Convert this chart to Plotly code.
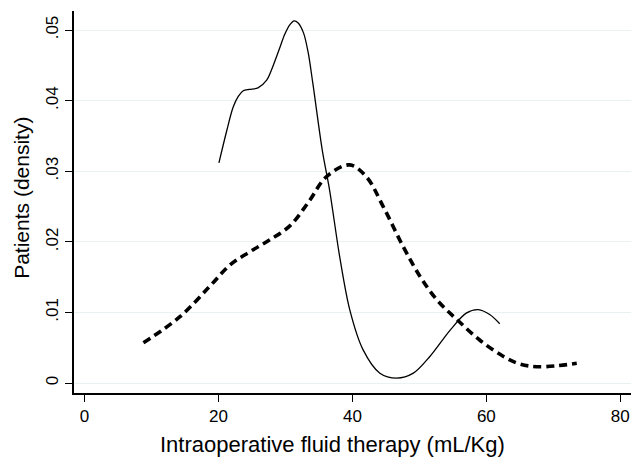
import plotly.graph_objects as go

# Solid curve (group 1) density
solid_x = [20.07, 21.2, 22.2, 22.96, 23.7, 24.6, 25.9, 27.2, 27.9, 29.2, 29.9, 30.7, 31.3, 31.9, 32.7,
           33.4, 34.1, 35.5, 36.6, 38.1, 39.6, 41.6, 44.1, 46.6, 49.1, 51.6, 54.6, 57.0, 58.8,
           60.5, 62.0]
solid_y = [0.0312, 0.0356, 0.0391, 0.0406, 0.0414, 0.0416, 0.0418, 0.0429, 0.0443, 0.0476, 0.0494,
           0.0508, 0.0513, 0.0510, 0.0496, 0.0468, 0.0424, 0.0330, 0.0273, 0.0179, 0.0104, 0.0047,
           0.0014, 0.0007, 0.0014, 0.0038, 0.0075, 0.0099, 0.0104, 0.0097, 0.0084]

# Dashed curve (group 2) density
dash_x = [8.8, 14.25, 18.7, 21.7, 24.7, 27.7, 30.7, 33.5, 36.1, 39.6, 42.1, 44.6, 47.6, 50.1,
          52.6, 55.6, 59.0, 62.5, 65.0, 68.0, 73.5]
dash_y = [0.0057, 0.0094, 0.0137, 0.0167, 0.0186, 0.0203, 0.0223, 0.0257, 0.0292, 0.0309, 0.0292,
          0.0250, 0.0193, 0.0151, 0.0118, 0.0090, 0.0061, 0.0038, 0.0027, 0.0023, 0.0028]

x_ticks = [0, 20, 40, 60, 80]
y_ticks = [0, 0.01, 0.02, 0.03, 0.04, 0.05]
y_ticktext = ["0", ".01", ".02", ".03", ".04", ".05"]

x_title = "Intraoperative fluid therapy (mL/Kg)"
y_title = "Patients (density)"

fig = go.Figure()
fig.add_trace(go.Scatter(x=solid_x, y=solid_y, mode="lines",
                         line=dict(color="black", width=1.3, shape="spline", smoothing=0.9),
                         showlegend=False))
fig.add_trace(go.Scatter(x=dash_x, y=dash_y, mode="lines",
                         line=dict(color="black", width=3.6, shape="spline", smoothing=1.0,
                                   dash="8px,5px"),
                         showlegend=False))

fig.update_layout(
    width=631, height=459,
    margin=dict(l=74, r=0, t=11, b=66),
    paper_bgcolor="white", plot_bgcolor="white",
    font=dict(family="Liberation Sans, Arial, sans-serif", color="black", size=16),
    xaxis=dict(range=[-1.57, 81.6], tickvals=x_ticks, showgrid=False, zeroline=False,
               showline=True, linecolor="black", linewidth=1.5,
               ticks="outside", ticklen=7, tickcolor="black", tickwidth=1,
               tickfont=dict(size=17)),
    yaxis=dict(range=[-0.00141, 0.0527], tickvals=y_ticks, ticktext=y_ticktext,
               tickangle=-90, showgrid=True, gridcolor="#eaf1f3", gridwidth=1.2,
               zeroline=False, showline=True, linecolor="black", linewidth=1.5,
               ticks="outside", ticklen=7, tickcolor="black", tickwidth=1,
               tickfont=dict(size=17)),
    annotations=[
        dict(text=x_title, xref="paper", yref="paper", x=0.464, y=-0.135,
             xanchor="center", yanchor="middle", showarrow=False, font=dict(size=22)),
        dict(text=y_title, xref="paper", yref="paper", x=-0.094, y=0.51, textangle=-90,
             xanchor="center", yanchor="middle", showarrow=False, font=dict(size=21)),
    ],
)

fig.write_html("out.html")
